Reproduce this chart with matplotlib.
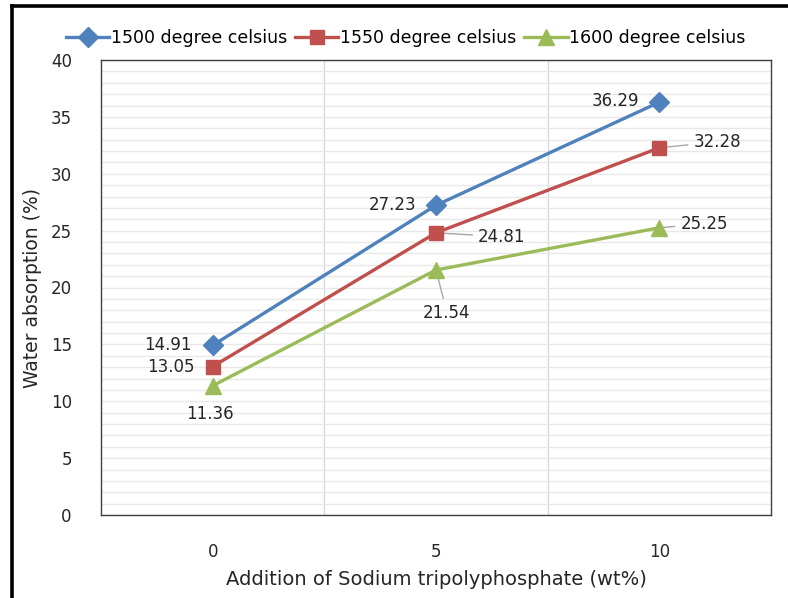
import numpy as np
import matplotlib
matplotlib.use("Agg")
import matplotlib.pyplot as plt
from matplotlib.lines import Line2D

plt.rcParams['font.family'] = ['DejaVu Sans']

# ข้อมูล
additions = ["0", "5", "10"]
series_names = ["1500 degree celsius", "1550 degree celsius", "1600 degree celsius"]
water_1500 = [14.91, 27.23, 36.29]
water_1550 = [13.05, 24.81, 32.28]
water_1600 = [11.36, 21.54, 25.25]

colors = ['#4F81BD', '#C0504D', '#9BBB59']
markers = ['D', 's', '^']
msizes = [10, 10, 12]

# label offsets in pixels (dx, dy, ha, leader)
label_pos = [
    [(-45, 0, 'center', False), (-43, 0, 'center', False), (-44, 1, 'center', False)],
    [(-42, 0, 'center', False), (42, -4, 'left', True), (34, 6, 'left', True)],
    [(-3, -28, 'center', False), (11, -43, 'center', True), (21, 4, 'left', True)],
]

fig = plt.figure(figsize=(7.88, 5.98), dpi=100)
ax = fig.add_axes([101/788, 83/598, 670/788, 455/598])

x = np.arange(len(additions))
all_series = [water_1500, water_1550, water_1600]

for i, vals in enumerate(all_series):
    ax.plot(x, vals, color=colors[i], lw=2.4, marker=markers[i], ms=msizes[i],
            label=series_names[i], zorder=4)
    for j, v in enumerate(vals):
        dx, dy, ha, leader = label_pos[i][j]
        if leader:
            ax.annotate(f"{v:.2f}", (x[j], v), xytext=(dx, dy), textcoords='offset pixels',
                        ha=ha, va='center', fontsize=12, color='#262626', zorder=3,
                        arrowprops=dict(arrowstyle='-', color='#A6A6A6', lw=1,
                                        shrinkA=2, shrinkB=0))
        else:
            ax.annotate(f"{v:.2f}", (x[j], v), xytext=(dx, dy), textcoords='offset pixels',
                        ha=ha, va='center', fontsize=12, color='#262626', zorder=3)

ax.set_xlim(-0.5, 2.5)
ax.set_ylim(0, 40)
ax.set_xticks(x)
ax.set_xticklabels(additions)
ax.set_yticks(np.arange(0, 41, 5))
ax.set_yticks(np.arange(0, 41, 1), minor=True)
ax.set_xticks([0.5, 1.5], minor=True)
ax.tick_params(axis='both', which='both', length=0, labelsize=12, colors='#262626')
ax.tick_params(axis='y', pad=21)
ax.tick_params(axis='x', pad=20)
ax.grid(True, which='both', axis='y', color='#E8E8E8', lw=1, zorder=0)
ax.grid(True, which='minor', axis='x', color='#D9D9D9', lw=1, zorder=0)
ax.set_axisbelow(True)
for s in ax.spines.values():
    s.set_color('#404040')
    s.set_linewidth(1)

ax.set_xlabel("Addition of Sodium tripolyphosphate (wt%)", fontsize=14, color='#262626')
ax.set_ylabel("Water absorption (%)", fontsize=13.5, color='#262626')
ax.xaxis.set_label_coords(0.5, -0.121)
ax.yaxis.set_label_coords(-0.088, 0.5)

ax.legend(loc='center', bbox_to_anchor=(0.515, 0.936), bbox_transform=fig.transFigure,
          ncol=3, frameon=False, fontsize=12.5, handlelength=2.5, handletextpad=0.1,
          columnspacing=0.45)

# black frame at left and top
fig.add_artist(Line2D([12/788, 12/788], [0, 1 - 6/598], color='black', lw=2.6,
                      transform=fig.transFigure))
fig.add_artist(Line2D([12/788, 1], [1 - 6/598, 1 - 6/598], color='black', lw=2.6,
                      transform=fig.transFigure))

fig.savefig("out.png", dpi=100)
